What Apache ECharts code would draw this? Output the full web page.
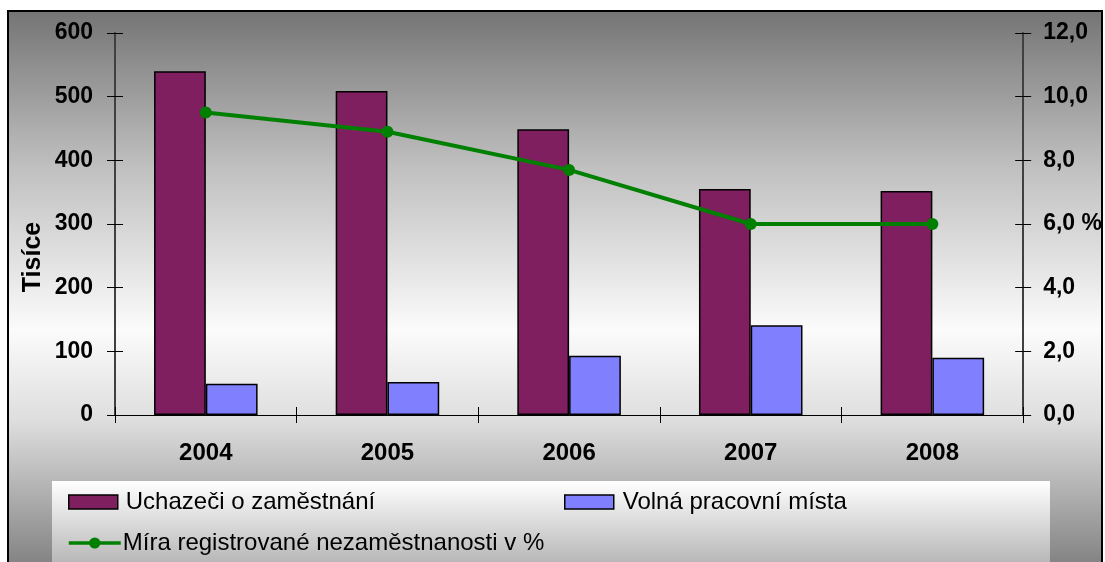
<!DOCTYPE html>
<html>
<head>
<meta charset="utf-8">
<script src="https://cdn.jsdelivr.net/npm/echarts@6/dist/echarts.min.js"></script>
<style>
  html, body { margin: 0; padding: 0; background: #fff; }
  #main { width: 1105px; height: 562px; }
</style>
</head>
<body>
<div id="main"></div>
<script>
const years = ['2004', '2005', '2006', '2007', '2008'];
const uchazeci = [540, 509, 449, 355, 352];
const volnaMista = [49, 52, 93, 141, 90];
const miraNezam = [9.5, 8.9, 7.7, 6.0, 6.0];

const nameUch = 'Uchazeči o zaměstnání';
const nameVol = 'Volná pracovní místa';
const nameMira = 'Míra registrované nezaměstnanosti v %';

const font = '"Liberation Sans", Arial, sans-serif';

const chart = echarts.init(document.getElementById('main'));

function pctLabel(v) {
  let s = v.toFixed(1).replace('.', ',');
  if (v === 6) s += ' %';
  return s;
}

// copies of axes only used to draw the inner half of the crossing ticks
const tickOnly = {
  axisLine: {show: false},
  axisLabel: {show: false},
  splitLine: {show: false},
  axisTick: {show: true, inside: true, length: 8, lineStyle: {color: '#000', width: 1}}
};

const legendText = {fontSize: 24, color: '#000', fontFamily: font};

const option = {
  animation: false,
  textStyle: {fontFamily: font},
  graphic: [
    {
      type: 'rect', z: -2,
      shape: {x: 8, y: 11, width: 1094, height: 560},
      style: {
        fill: new echarts.graphic.LinearGradient(0, 0, 0, 1, [
          {offset: 0, color: '#747474'},
          {offset: 0.28, color: '#c0c0c0'},
          {offset: 0.57, color: '#fbfbfb'},
          {offset: 0.73, color: '#dedede'},
          {offset: 1, color: '#7e7e7e'}
        ]),
        stroke: '#000', lineWidth: 2
      }
    },
    {
      type: 'rect', z: -1,
      shape: {x: 52, y: 481, width: 998, height: 90},
      style: {
        fill: new echarts.graphic.LinearGradient(0, 0, 0, 1, [
          {offset: 0, color: '#ffffff'},
          {offset: 1, color: '#b0b0b0'}
        ])
      }
    },
    {
      type: 'text', x: 33, y: 257, rotation: Math.PI / 2,
      style: {
        text: 'Tisíce', font: 'bold 25px ' + font,
        textAlign: 'center', textVerticalAlign: 'middle', fill: '#000'
      }
    }
  ],
  grid: {left: 115, right: 80, top: 33, bottom: 147, containLabel: false},
  legend: [
    {
      data: [{name: nameUch, icon: 'rect'}], left: 68, top: 490, itemWidth: 49, itemHeight: 14,
      padding: 0, itemStyle: {borderColor: '#000', borderWidth: 1.5},
      textStyle: Object.assign({padding: [0, 0, 0, 3]}, legendText)
    },
    {
      data: [{name: nameVol, icon: 'rect'}], left: 564, top: 490, itemWidth: 49, itemHeight: 14,
      padding: 0, itemStyle: {borderColor: '#000', borderWidth: 1.5},
      textStyle: Object.assign({padding: [0, 0, 0, 4]}, legendText)
    },
    {
      data: [nameMira], left: 67, top: 531, itemWidth: 52, itemHeight: 14,
      padding: 0, lineStyle: {width: 3.5}, itemStyle: {color: '#008000'},
      textStyle: Object.assign({padding: [0, 0, 0, -3]}, legendText)
    }
  ],
  xAxis: [
    {
      type: 'category', data: years,
      axisLine: {lineStyle: {color: '#000', width: 1}},
      axisTick: {show: true, length: 8, lineStyle: {color: '#000', width: 1}},
      axisLabel: {fontSize: 24, fontWeight: 'bold', color: '#000', margin: 26, fontFamily: font},
      splitLine: {show: false}
    },
    Object.assign({type: 'category', data: years, position: 'bottom'}, tickOnly)
  ],
  yAxis: [
    {
      type: 'value', min: 0, max: 600, interval: 100, position: 'left',
      axisLine: {show: true, lineStyle: {color: '#404040', width: 2}},
      axisTick: {show: true, length: 8, lineStyle: {color: '#000', width: 1}},
      axisLabel: {fontSize: 23, fontWeight: 'bold', color: '#000', margin: 22, fontFamily: font},
      splitLine: {show: false}
    },
    {
      type: 'value', min: 0, max: 12, interval: 2, position: 'right',
      axisLine: {show: true, lineStyle: {color: '#404040', width: 2}},
      axisTick: {show: true, length: 8, lineStyle: {color: '#000', width: 1}},
      axisLabel: {fontSize: 23, fontWeight: 'bold', color: '#000', margin: 20, fontFamily: font,
        formatter: pctLabel},
      splitLine: {show: false}
    },
    Object.assign({type: 'value', min: 0, max: 600, interval: 100, position: 'left'}, tickOnly),
    Object.assign({type: 'value', min: 0, max: 12, interval: 2, position: 'right'}, tickOnly)
  ],
  series: [
    {
      name: nameUch, type: 'bar', data: uchazeci,
      xAxisIndex: 0, yAxisIndex: 0,
      barGap: '0%', barCategoryGap: '43%',
      itemStyle: {color: '#7f1f5f', borderColor: '#000', borderWidth: 1.5},
      emphasis: {disabled: true}
    },
    {
      name: nameVol, type: 'bar', data: volnaMista,
      xAxisIndex: 0, yAxisIndex: 0,
      barGap: '0%', barCategoryGap: '43%',
      itemStyle: {color: '#8080ff', borderColor: '#000', borderWidth: 1.5},
      emphasis: {disabled: true}
    },
    {
      name: nameMira, type: 'line', data: miraNezam,
      xAxisIndex: 0, yAxisIndex: 1,
      symbol: 'circle', symbolSize: 12,
      lineStyle: {color: '#008000', width: 4},
      itemStyle: {color: '#008000'},
      emphasis: {disabled: true},
      z: 5
    }
  ]
};

chart.setOption(option);
</script>
</body>
</html>
